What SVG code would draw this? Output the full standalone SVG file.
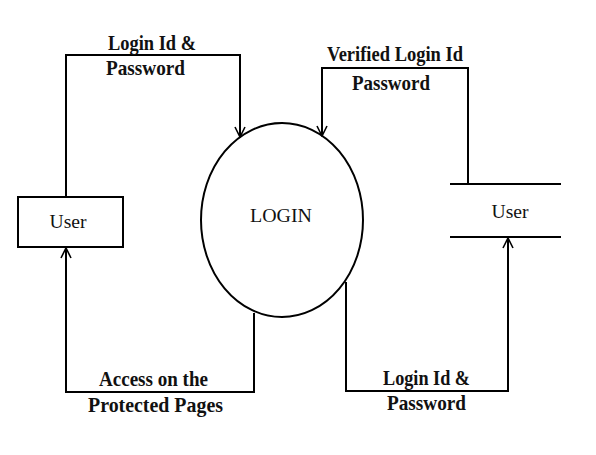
<svg xmlns="http://www.w3.org/2000/svg" width="596" height="455" viewBox="0 0 596 455">
<defs>
<marker id="arr" viewBox="0 0 12 12" refX="11" refY="6" markerWidth="12" markerHeight="12" markerUnits="userSpaceOnUse" orient="auto">
<polyline points="1,1 11,6 1,11" fill="none" stroke="#000" stroke-width="1.6"/>
</marker>
<style>
.ln{fill:none;stroke:#000;stroke-width:2}
.lb{font-family:"Liberation Serif","Times New Roman",serif;font-weight:bold;font-size:21px;fill:#111}
.nt{font-family:"Liberation Serif","Times New Roman",serif;font-size:19px;fill:#111}
</style>
</defs>
<rect width="596" height="455" fill="#fff"/>
<g id="user-left">
<rect x="18" y="197" width="105" height="50" class="ln"/>
<text x="68" y="228" class="nt" text-anchor="middle" textLength="37" lengthAdjust="spacingAndGlyphs">User</text>
</g>
<g id="login">
<ellipse cx="282" cy="220" rx="81" ry="97" class="ln"/>
<text x="281" y="222" class="nt" text-anchor="middle" font-size="20" textLength="62" lengthAdjust="spacingAndGlyphs">LOGIN</text>
</g>
<g id="user-right">
<line x1="450" y1="184" x2="561" y2="184" class="ln"/>
<line x1="450" y1="237" x2="561" y2="237" class="ln"/>
<text x="510" y="218" class="nt" text-anchor="middle" textLength="37" lengthAdjust="spacingAndGlyphs">User</text>
</g>
<g id="connectors">
<polyline points="66,197 66,55 240,55 240,137" class="ln" marker-end="url(#arr)"/>
<polyline points="468,184 468,68 322,68 322,136" class="ln" marker-end="url(#arr)"/>
<polyline points="254,313 254,392 66,392 66,248" class="ln" marker-end="url(#arr)"/>
<polyline points="346,282 346,391 508,391 508,238" class="ln" marker-end="url(#arr)"/>
</g>
<g id="labels">
<text x="152" y="50" class="lb" text-anchor="middle" textLength="88" lengthAdjust="spacingAndGlyphs">Login Id &amp;</text>
<text x="145.5" y="75" class="lb" text-anchor="middle" textLength="79" lengthAdjust="spacingAndGlyphs">Password</text>
<text x="395" y="61" class="lb" text-anchor="middle" textLength="136" lengthAdjust="spacingAndGlyphs">Verified Login Id</text>
<text x="391" y="90" class="lb" text-anchor="middle" textLength="78" lengthAdjust="spacingAndGlyphs">Password</text>
<text x="153.5" y="386" class="lb" text-anchor="middle" textLength="109" lengthAdjust="spacingAndGlyphs">Access on the</text>
<text x="155.5" y="412" class="lb" text-anchor="middle" textLength="135" lengthAdjust="spacingAndGlyphs">Protected Pages</text>
<text x="426.5" y="385" class="lb" text-anchor="middle" textLength="87" lengthAdjust="spacingAndGlyphs">Login Id &amp;</text>
<text x="426.5" y="410" class="lb" text-anchor="middle" textLength="79" lengthAdjust="spacingAndGlyphs">Password</text>
</g>
</svg>
